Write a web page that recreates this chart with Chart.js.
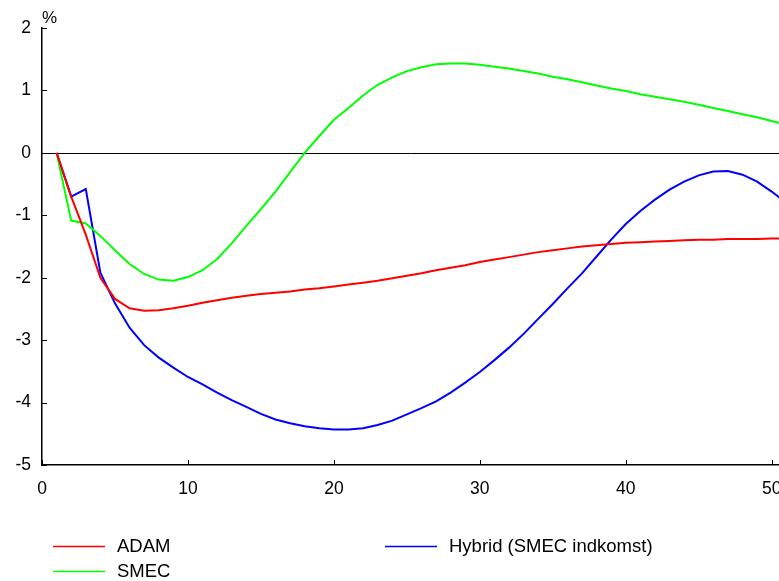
<!DOCTYPE html>
<html>
<head>
<meta charset="utf-8">
<script src="https://cdn.jsdelivr.net/npm/chart.js@4"></script>
<style>
  html, body { margin: 0; padding: 0; background: #fff; overflow: hidden; }
  canvas { display: block; }
</style>
</head>
<body>
<canvas id="chart" width="779" height="581"></canvas>
<script>
// years 1..51
const years = Array.from({length: 51}, (_, i) => i + 1);

const adam = [0, -0.70, -1.31, -2.00, -2.34, -2.49, -2.53, -2.52, -2.49, -2.45,
  -2.40, -2.36, -2.32, -2.29, -2.26, -2.24, -2.22, -2.19, -2.17, -2.14,
  -2.11, -2.08, -2.05, -2.01, -1.97, -1.93, -1.88, -1.84, -1.80, -1.75,
  -1.71, -1.67, -1.63, -1.59, -1.56, -1.53, -1.50, -1.48, -1.46, -1.44,
  -1.43, -1.42, -1.41, -1.40, -1.39, -1.39, -1.38, -1.38, -1.38, -1.37, -1.37];

const smec = [0, -1.085, -1.13, -1.33, -1.56, -1.78, -1.94, -2.03, -2.05, -1.99,
  -1.88, -1.70, -1.45, -1.17, -0.90, -0.62, -0.31, 0.00, 0.27, 0.53,
  0.72, 0.92, 1.09, 1.21, 1.31, 1.37, 1.42, 1.43, 1.43, 1.41,
  1.38, 1.35, 1.31, 1.27, 1.22, 1.18, 1.13, 1.08, 1.03, 0.99,
  0.94, 0.90, 0.86, 0.82, 0.77, 0.72, 0.67, 0.62, 0.57, 0.51, 0.45];

const hybrid = [0, -0.70, -0.58, -1.92, -2.41, -2.80, -3.08, -3.28, -3.44, -3.59,
  -3.71, -3.84, -3.96, -4.07, -4.18, -4.27, -4.33, -4.38, -4.41, -4.43,
  -4.43, -4.41, -4.36, -4.29, -4.19, -4.09, -3.98, -3.84, -3.68, -3.51,
  -3.32, -3.12, -2.90, -2.66, -2.42, -2.17, -1.93, -1.66, -1.39, -1.14,
  -0.93, -0.75, -0.59, -0.46, -0.36, -0.30, -0.29, -0.35, -0.46, -0.62, -0.80];

const seriesNames = ['ADAM', 'SMEC', 'Hybrid (SMEC indkomst)'];
const seriesColors = ['#ff0000', '#00ff00', '#0000ff'];

const FONT = '"Liberation Sans", Arial, Helvetica, sans-serif';

const toPoints = vals => years.map((x, i) => ({x: x, y: vals[i]}));

// inner tick marks, zero line, unit label and the legend
const decorations = {
  id: 'decorations',
  beforeDatasetsDraw(chart) {
    const {ctx, chartArea, scales} = chart;
    ctx.save();
    ctx.strokeStyle = '#000';
    ctx.lineWidth = 1;
    // zero line
    const y0 = Math.round(scales.y.getPixelForValue(0)) + 0.5;
    ctx.beginPath();
    ctx.moveTo(chartArea.left, y0);
    ctx.lineTo(chartArea.right, y0);
    ctx.stroke();
    // ticks pointing into the plot
    scales.y.ticks.forEach(t => {
      const py = Math.round(scales.y.getPixelForValue(t.value)) + 0.5;
      ctx.beginPath();
      ctx.moveTo(chartArea.left, py);
      ctx.lineTo(chartArea.left + 5, py);
      ctx.stroke();
    });
    scales.x.ticks.forEach(t => {
      const px = Math.round(scales.x.getPixelForValue(t.value)) + 0.5;
      ctx.beginPath();
      ctx.moveTo(px, chartArea.bottom);
      ctx.lineTo(px, chartArea.bottom - 5);
      ctx.stroke();
    });
    ctx.restore();
  },
  afterDraw(chart) {
    const {ctx, chartArea} = chart;
    ctx.save();
    ctx.fillStyle = '#000';
    ctx.font = '17px ' + FONT;
    ctx.textBaseline = 'alphabetic';
    ctx.textAlign = 'left';
    ctx.fillText('%', chartArea.left, 23);

    // legend: two rows, filled column by column
    const slots = [[53, 546.5], [53, 571.5], [385, 546.5]];
    ctx.font = '18.5px ' + FONT;
    ctx.textBaseline = 'middle';
    chart.data.datasets.forEach((ds, i) => {
      const [lx, ly] = slots[i];
      ctx.strokeStyle = ds.borderColor;
      ctx.lineWidth = 1.5;
      ctx.beginPath();
      ctx.moveTo(lx, ly);
      ctx.lineTo(lx + 52, ly);
      ctx.stroke();
      ctx.fillStyle = '#000';
      ctx.fillText(ds.label, lx + 64, ly);
    });
    ctx.restore();
  }
};

new Chart(document.getElementById('chart'), {
  type: 'line',
  data: {
    datasets: [adam, smec, hybrid].map((vals, i) => ({
      label: seriesNames[i],
      data: toPoints(vals),
      borderColor: seriesColors[i],
      backgroundColor: seriesColors[i],
      borderWidth: 2,
      pointRadius: 0,
      tension: 0,
      fill: false
    }))
  },
  options: {
    responsive: false,
    animation: false,
    devicePixelRatio: 1,
    layout: {padding: {top: 28, left: 0, right: 0, bottom: 0}},
    plugins: {
      legend: {display: false},
      tooltip: {enabled: false}
    },
    scales: {
      x: {
        type: 'linear',
        min: 0,
        max: 50.5,
        grid: {display: false, drawTicks: false},
        border: {display: true, color: '#000', width: 1.5},
        ticks: {
          stepSize: 10,
          includeBounds: false,
          color: '#000',
          padding: 14,
          maxRotation: 0,
          font: {family: FONT, size: 17.5}
        },
        afterBuildTicks: s => { s.ticks = s.ticks.filter(t => t.value % 10 === 0); },
        afterFit: s => { s.height = 116; s.paddingLeft = 0; s.paddingRight = 0; }
      },
      y: {
        min: -5,
        max: 2,
        grid: {display: false, drawTicks: false},
        border: {display: true, color: '#000', width: 1.5},
        ticks: {
          stepSize: 1,
          color: '#000',
          padding: 11,
          font: {family: FONT, size: 17.5}
        },
        afterFit: s => { s.width = 42; s.paddingTop = 0; s.paddingBottom = 0; }
      }
    }
  },
  plugins: [decorations]
});
</script>
</body>
</html>
